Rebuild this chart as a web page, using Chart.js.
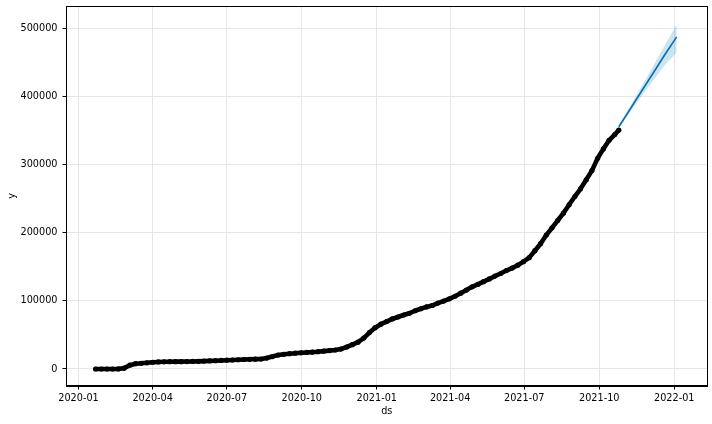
<!DOCTYPE html>
<html>
<head>
<meta charset="utf-8">
<script src="https://cdn.jsdelivr.net/npm/chart.js@4.4.1/dist/chart.umd.min.js"></script>
<style>
  html, body { margin: 0; padding: 0; background: #fff; }
  #c { display: block; }
</style>
</head>
<body>
<canvas id="c" width="712" height="424"></canvas>
<script>
// ---- DATA ----
const historyDates = [
  '2020-01-22','2020-01-29','2020-02-05','2020-02-12','2020-02-19','2020-02-26',
  '2020-03-04','2020-03-11','2020-03-18','2020-03-25','2020-04-01','2020-04-08',
  '2020-04-15','2020-04-22','2020-04-29','2020-05-06','2020-05-13','2020-05-20',
  '2020-05-27','2020-06-03','2020-06-10','2020-06-17','2020-06-24','2020-07-01',
  '2020-07-08','2020-07-15','2020-07-22','2020-07-29','2020-08-05','2020-08-12',
  '2020-08-19','2020-08-26','2020-09-02','2020-09-09','2020-09-16','2020-09-23',
  '2020-09-30','2020-10-07','2020-10-14','2020-10-21','2020-10-28','2020-11-04',
  '2020-11-11','2020-11-18','2020-11-25','2020-12-02','2020-12-09','2020-12-16',
  '2020-12-23','2020-12-30','2021-01-06','2021-01-13','2021-01-20','2021-01-27',
  '2021-02-03','2021-02-10','2021-02-17','2021-02-24','2021-03-03','2021-03-10',
  '2021-03-17','2021-03-24','2021-03-31','2021-04-07','2021-04-14','2021-04-21',
  '2021-04-28','2021-05-05','2021-05-12','2021-05-19','2021-05-26','2021-06-02',
  '2021-06-09','2021-06-16','2021-06-23','2021-06-30','2021-07-07','2021-07-14',
  '2021-07-21','2021-07-28','2021-08-04','2021-08-11','2021-08-18','2021-08-25',
  '2021-09-01','2021-09-08','2021-09-15','2021-09-22','2021-09-29','2021-10-06',
  '2021-10-13','2021-10-20','2021-10-25'
];
const historyValues = [
  1, 4, 19, 28, 51, 1261,
  5621, 7755, 8413, 9137, 9887, 10384,
  10591, 10694, 10761, 10810, 10962, 11122,
  11265, 11590, 11947, 12198, 12535, 12904,
  13244, 13612, 13938, 14251, 14499, 14714,
  16058, 18265, 20449, 21588, 22504, 23216,
  23812, 24353, 24805, 25424, 26271, 27050,
  27942, 29311, 32318, 35703, 39432, 45442,
  53533, 60740, 65818, 69651, 73518, 76429,
  79311, 81930, 85567, 88516, 91240, 93263,
  96849, 99846, 103088, 106898, 111419, 115926,
  120673, 124269, 128283, 132290, 136467, 140340,
  144637, 148273, 152545, 157723, 163603, 173784,
  184103, 196806, 207406, 218192, 229018, 241222,
  253445, 264725, 277989, 291486, 309559, 323379,
  336092, 344492, 351000
];
const forecastDates = ['2021-10-25','2021-11-08','2021-11-22','2021-12-06','2021-12-20','2022-01-04'];
const forecastYhat  = [356000, 382000, 408500, 434500, 461000, 488000];
const forecastUpper = [358000, 386500, 415500, 445000, 475000, 506000];
const forecastLower = [354000, 377500, 401000, 423500, 446000, 465000];
const xTickLabels = ['2020-01','2020-04','2020-07','2020-10','2021-01','2021-04','2021-07','2021-10','2022-01'];
const yTickValues = [0, 100000, 200000, 300000, 400000, 500000];

// ---- helpers ----
const BASE = Date.UTC(2020, 0, 1);
function dayNum(s) {
  const p = s.split('-').map(Number);
  return (Date.UTC(p[0], p[1] - 1, p[2] || 1) - BASE) / 86400000;
}
const pts = (ds, vs) => ds.map((d, i) => ({ x: dayNum(d), y: vs[i] }));
const xTickDays = xTickLabels.map(l => dayNum(l + '-01'));

const FONT = { family: 'DejaVu Sans', size: 9.7 };
const GRID = '#e6e6e6';
const BLUE = '#0072B2';

const frame = {
  id: 'frame',
  afterDraw(chart) {
    const { ctx, chartArea: a } = chart;
    ctx.save();
    ctx.strokeStyle = '#000';
    ctx.lineWidth = 1;
    ctx.strokeRect(Math.round(a.left) + 0.5, Math.round(a.top) + 0.5,
                   Math.round(a.right - a.left) - 1, Math.round(a.bottom - a.top) - 1);
    ctx.restore();
  }
};

new Chart(document.getElementById('c'), {
  type: 'scatter',
  data: {
    datasets: [
      { label: 'upper', data: pts(forecastDates, forecastUpper), showLine: true,
        borderWidth: 0, pointRadius: 0, fill: '+1',
        backgroundColor: 'rgba(0,114,178,0.2)', borderColor: 'rgba(0,0,0,0)', order: 2 },
      { label: 'lower', data: pts(forecastDates, forecastLower), showLine: true,
        borderWidth: 0, pointRadius: 0, fill: false, borderColor: 'rgba(0,0,0,0)', order: 2 },
      { label: 'yhat', data: pts(forecastDates, forecastYhat), showLine: true,
        borderColor: BLUE, borderWidth: 1.6, pointRadius: 0, fill: false, order: 1 },
      { label: 'y', data: pts(historyDates, historyValues), showLine: true,
        borderColor: '#000', borderWidth: 4.6, pointRadius: 2.6,
        pointBackgroundColor: '#000', pointBorderWidth: 0,
        borderJoinStyle: 'round', borderCapStyle: 'round', fill: false, order: 3 }
    ]
  },
  options: {
    responsive: false,
    animation: false,
    devicePixelRatio: 1,
    layout: { padding: { left: 0, right: 4.5, top: 6, bottom: 0 } },
    plugins: { legend: { display: false }, tooltip: { enabled: false } },
    scales: {
      x: {
        type: 'linear', min: -15.3, max: 771.8,
        afterFit(s) { s.height = 38; s.paddingLeft = 0; s.paddingRight = 0; },
        afterBuildTicks(s) { s.ticks = xTickDays.map(v => ({ value: v })); },
        ticks: {
          font: FONT, color: '#000', padding: 3, maxRotation: 0, autoSkip: false,
          callback: (v, i) => xTickLabels[i]
        },
        grid: { color: GRID, lineWidth: 1, tickColor: '#000', tickLength: 3.5, drawTicks: true },
        border: { display: true, color: '#000', width: 1 },
        title: { display: true, text: 'ds', font: FONT, color: '#000', padding: { top: 0, bottom: 6.3 } }
      },
      y: {
        type: 'linear', min: -24980, max: 533350,
        afterFit(s) { s.width = 66; s.paddingTop = 0; s.paddingBottom = 0; },
        afterBuildTicks(s) { s.ticks = yTickValues.map(v => ({ value: v })); },
        ticks: { font: FONT, color: '#000', padding: 5, callback: v => String(v) },
        grid: { color: GRID, lineWidth: 1, tickColor: '#000', tickLength: 3.5, drawTicks: true },
        border: { display: true, color: '#000', width: 1 },
        title: { display: true, text: 'y', font: FONT, color: '#000', padding: { top: 6.3, bottom: 0 } }
      }
    }
  },
  plugins: [frame]
});
</script>
</body>
</html>
